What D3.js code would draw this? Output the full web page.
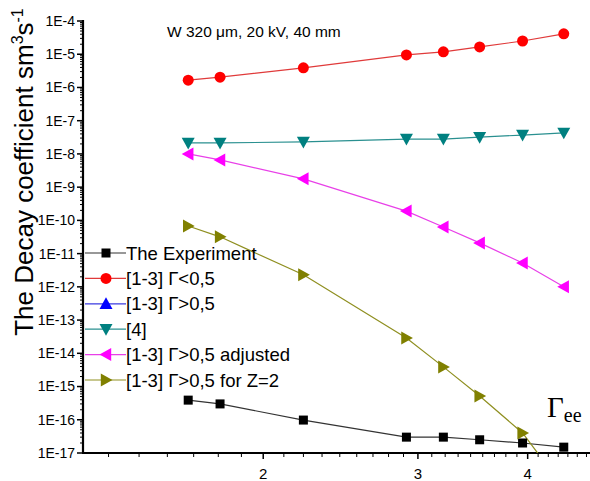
<!DOCTYPE html>
<html><head><meta charset="utf-8">
<script src="https://cdn.jsdelivr.net/npm/d3@7"></script>
<style>body{margin:0;background:#fff;} svg{display:block;font-family:"Liberation Sans",Arial,sans-serif;}</style>
</head><body>
<script>
// ---- data ----
const xVals = [1.643, 1.786, 2.222, 2.911, 3.207, 3.527, 3.947, 4.397];
const experiment = [3.9e-16, 3.0e-16, 9.8e-17, 3.0e-17, 3.0e-17, 2.5e-17, 2.0e-17, 1.5e-17];
const gammaLess = [1.66e-6, 2.04e-6, 3.9e-6, 9.5e-6, 1.18e-5, 1.66e-5, 2.5e-5, 4.1e-5];
const gammaMore = [];
const ref4 = [2.14e-8, 2.14e-8, 2.3e-8, 2.8e-8, 2.8e-8, 3.2e-8, 3.7e-8, 4.3e-8];
const adjusted = [1.0e-8, 6.6e-9, 1.78e-9, 1.9e-10, 6.3e-11, 2.1e-11, 5.2e-12, 1.0e-12];
const z2 = [6.8e-11, 3.2e-11, 2.3e-12, 2.9e-14, 3.9e-15, 5.2e-16, 4.0e-17, 9e-19];
const seriesNames = ["The Experiment", "[1-3] Γ<0,5", "[1-3] Γ>0,5", "[4]", "[1-3] Γ>0,5 adjusted", "[1-3] Γ>0,5 for Z=2"];
const xTickValues = [2, 3, 4];
const yDecades = [-17,-16,-15,-14,-13,-12,-11,-10,-9,-8,-7,-6,-5,-4];

const W = 590, H = 481;
const svg = d3.select("body").append("svg").attr("width", W).attr("height", H);
const x = d3.scaleLog().domain([1.247, 4.71]).range([83, 590]);
const y = d3.scaleLog().domain([1e-17, 1e-4]).range([453, 21]);

const series = [
  {name: seriesNames[0], vals: experiment, color: "#000", line: "#333", shape: "square"},
  {name: seriesNames[1], vals: gammaLess, color: "#ff0000", line: "#e03a3a", shape: "circle"},
  {name: seriesNames[2], vals: gammaMore, color: "#0000ff", line: "#3a3ae0", shape: "up"},
  {name: seriesNames[3], vals: ref4, color: "#008080", line: "#2a9090", shape: "down"},
  {name: seriesNames[4], vals: adjusted, color: "#ff00ff", line: "#e840e8", shape: "left"},
  {name: seriesNames[5], vals: z2, color: "#808000", line: "#8f8f20", shape: "right"}
];

function marker(g, shape, cx, cy, color) {
  if (shape === "circle") g.append("circle").attr("cx", cx).attr("cy", cy).attr("r", 5.5).attr("fill", color);
  else if (shape === "square") g.append("rect").attr("x", cx-4.5).attr("y", cy-4.5).attr("width", 9).attr("height", 9).attr("fill", color);
  else {
    const s = 6.5;
    let pts;
    if (shape === "up") pts = [[0,-s],[s,s*0.8],[-s,s*0.8]];
    if (shape === "down") pts = [[0,s],[s,-s*0.8],[-s,-s*0.8]];
    if (shape === "left") pts = [[-s,0],[s*0.8,-s],[s*0.8,s]];
    if (shape === "right") pts = [[s,0],[-s*0.8,-s],[-s*0.8,s]];
    g.append("path").attr("d", "M" + pts.map(p => [cx+p[0], cy+p[1]].join(",")).join("L") + "Z").attr("fill", color);
  }
}

// clip
svg.append("clipPath").attr("id","clip").append("rect").attr("x",83).attr("y",15).attr("width",507).attr("height",438);

// axes
const axY = svg.append("g");
axY.append("line").attr("x1",83).attr("x2",83).attr("y1",y(1e-4)-1).attr("y2",453).attr("stroke","#000").attr("stroke-width",2.2);
yDecades.forEach(e => {
  const v = Math.pow(10, e);
  axY.append("line").attr("x1",77).attr("x2",83).attr("y1",y(v)).attr("y2",y(v)).attr("stroke","#000").attr("stroke-width",1.5);
  axY.append("text").attr("x",75).attr("y",y(v)).attr("dy","0.35em").attr("text-anchor","end").attr("font-size",14).text("1E" + e);
  if (e < -4) for (let k = 2; k <= 9; k++) {
    const mv = k * v;
    axY.append("line").attr("x1",80).attr("x2",83).attr("y1",y(mv)).attr("y2",y(mv)).attr("stroke","#000").attr("stroke-width",1);
  }
});
const axX = svg.append("g");
axX.append("line").attr("x1",82).attr("x2",590).attr("y1",453).attr("y2",453).attr("stroke","#000").attr("stroke-width",2.2);
for (let k = 1; k <= 4; k++) for (let j = 1; j <= 8; j++) {
  const v = k + j/9;
  if (x(v) > 84 && x(v) < 590) axX.append("line").attr("x1",x(v)).attr("x2",x(v)).attr("y1",453).attr("y2",457).attr("stroke","#000").attr("stroke-width",1);
}
xTickValues.forEach(v => {
  axX.append("line").attr("x1",x(v)).attr("x2",x(v)).attr("y1",453).attr("y2",459).attr("stroke","#000").attr("stroke-width",1.5);
  axX.append("text").attr("x",x(v)).attr("y",479).attr("text-anchor","middle").attr("font-size",15).text(v);
});

// series
const plot = svg.append("g").attr("clip-path","url(#clip)");
const line = d3.line().x(d => x(d[0])).y(d => y(d[1]));
series.forEach(s => {
  const pts = s.vals.map((v,i) => [xVals[i], v]);
  if (!pts.length) return;
  plot.append("path").attr("d", line(pts)).attr("fill","none").attr("stroke", s.line).attr("stroke-width",1.2);
});
series.forEach(s => {
  s.vals.forEach((v,i) => marker(plot, s.shape, x(xVals[i]), y(v), s.color));
});

// legend
const lg = svg.append("g");
series.forEach((s,i) => {
  const ly = 253 + i*25.4;
  lg.append("line").attr("x1",85).attr("x2",126).attr("y1",ly).attr("y2",ly).attr("stroke", s.line).attr("stroke-width",1.2);
  marker(lg, s.shape, 106, ly, s.color);
  lg.append("text").attr("x",126).attr("y",ly).attr("dy","0.36em").attr("font-size",18.5).text(s.name);
});

// annotation
svg.append("text").attr("x",167).attr("y",37).attr("font-size",15.5).text("W 320 μm, 20 kV, 40 mm");

// Gamma_ee
const ge = svg.append("text").attr("x",547).attr("y",417).attr("font-family","'Liberation Serif','Times New Roman',serif");
ge.append("tspan").attr("font-size",29).text("Γ");
ge.append("tspan").attr("font-size",20).attr("dy",5).text("ee");

// y title
const yt = svg.append("text").attr("transform","translate(33,172) rotate(-90)").attr("text-anchor","middle").attr("font-size",26);
yt.append("tspan").text("The Decay coefficient sm");
yt.append("tspan").attr("font-size",16).attr("dy",-10).text("3");
yt.append("tspan").attr("font-size",26).attr("dy",10).text("s");
yt.append("tspan").attr("font-size",16).attr("dy",-10).text("-1");
</script>
</body></html>
